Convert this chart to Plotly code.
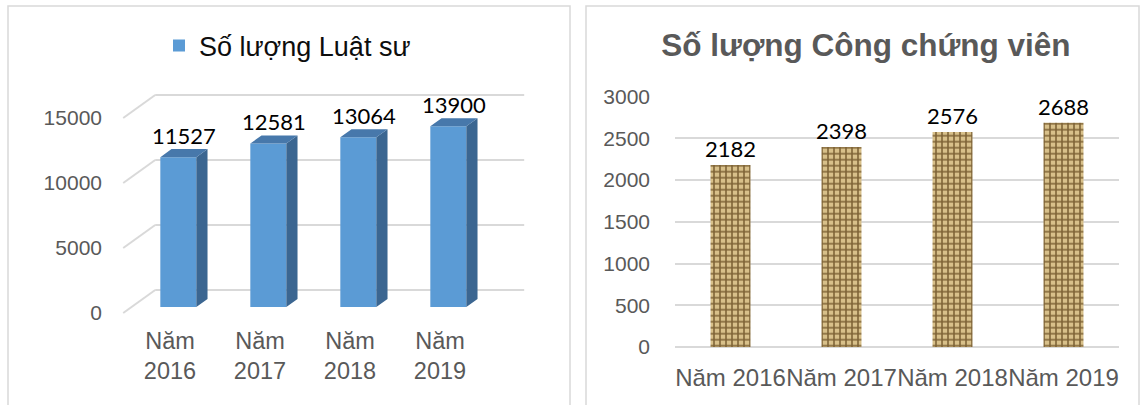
import plotly.graph_objects as go

# ---------------- data ----------------
years = ["2016", "2017", "2018", "2019"]
lawyers = [11527, 12581, 13064, 13900]
notaries = [2182, 2398, 2576, 2688]
left_cat_labels = ["Năm<br>2016", "Năm<br>2017", "Năm<br>2018", "Năm<br>2019"]
right_cat_labels = ["Năm 2016", "Năm 2017", "Năm 2018", "Năm 2019"]
left_ticks = [0, 5000, 10000, 15000]
right_ticks = [0, 500, 1000, 1500, 2000, 2500, 3000]
legend_name = "Số lượng Luật sư"
right_title = "Số lượng Công chứng viên"

# ---------------- layout constants ----------------
W, H = 1143, 405
GRID = "#d9d9d9"
TXT = "#595959"


def pxx(p):
    return p / W


def pxy(p):
    return 1 - p / H


# left pseudo-3D geometry
CAT_PX = 90.0          # pixels per category
UNIT_PX = 0.013        # pixels per value unit
CAT0_PX = 170.0        # pixel x of first category at front plane
ZERO_PX = 313.0        # pixel y of value 0 at front plane
DEPTH_DX, DEPTH_DY = 32.0, 23.0
D_FRONT, D_BACK = 0.26, 0.61
BAR_W = 0.4
WALL_L, WALL_R = -0.52, 3.58


def ddx(d):
    return d * DEPTH_DX / CAT_PX


def ddy(d):
    return d * DEPTH_DY / UNIT_PX


LX_DOM = (121, 530)
LY_DOM = (85, 316)
lx_range = [(LX_DOM[0] - CAT0_PX) / CAT_PX, (LX_DOM[1] - CAT0_PX) / CAT_PX]
ly_range = [(ZERO_PX - LY_DOM[1]) / UNIT_PX, (ZERO_PX - LY_DOM[0]) / UNIT_PX]

fig = go.Figure()

idx = list(range(len(years)))
front_x = [i + ddx(D_FRONT) for i in idx]

# front faces (real bars)
fig.add_trace(go.Bar(
    x=front_x, y=lawyers, base=ddy(D_FRONT), width=BAR_W,
    marker=dict(color="#5B9BD5", line=dict(width=0)),
    name=legend_name, xaxis="x", yaxis="y", showlegend=True,
    hoverinfo="skip",
))

# side and top faces computed from the values
side_x, side_y, top_x, top_y = [], [], [], []
sh = ddx(D_BACK) - ddx(D_FRONT)
for xc, v in zip(front_x, lawyers):
    xl, xr = xc - BAR_W / 2, xc + BAR_W / 2
    b1, b2 = ddy(D_FRONT), ddy(D_BACK)
    side_x += [xr, xr, xr + sh, xr + sh, xr, None]
    side_y += [b1, b1 + v, b2 + v, b2, b1, None]
    top_x += [xl, xr, xr + sh, xl + sh, xl, None]
    top_y += [b1 + v, b1 + v, b2 + v, b2 + v, b1 + v, None]

fig.add_trace(go.Scatter(x=side_x, y=side_y, mode="lines", fill="toself",
                         fillcolor="#3B6691", line=dict(width=0, color="#3B6691"),
                         showlegend=False, hoverinfo="skip", xaxis="x", yaxis="y"))
fig.add_trace(go.Scatter(x=top_x, y=top_y, mode="lines", fill="toself",
                         fillcolor="#4778AB", line=dict(width=0, color="#4778AB"),
                         showlegend=False, hoverinfo="skip", xaxis="x", yaxis="y"))

# left data labels
fig.add_trace(go.Scatter(
    x=[xc + sh / 2 for xc in front_x],
    y=[v + ddy(D_BACK) for v in lawyers],
    mode="text", text=[str(v) for v in lawyers], textposition="top center",
    textfont=dict(family="Lato", size=22, color="#000000"),
    showlegend=False, hoverinfo="skip", xaxis="x", yaxis="y", cliponaxis=False,
))

# right chart bars
fig.add_trace(go.Bar(
    x=right_cat_labels, y=notaries, width=0.36,
    marker=dict(color="#d2b981",
                pattern=dict(shape="+", bgcolor="#d8c08a", fgcolor="#7d6235",
                             size=6, solidity=0.45),
                line=dict(width=0)),
    text=[str(v) for v in notaries], textposition="outside", constraintext="none",
    textfont=dict(family="Lato", size=22, color="#000000"),
    cliponaxis=False, showlegend=False, hoverinfo="skip",
    xaxis="x2", yaxis="y2",
))

# ---------------- shapes: panel borders and 3D grid ----------------
shapes = [
    dict(type="rect", xref="paper", yref="paper", x0=pxx(8), x1=pxx(570),
         y0=-0.1, y1=pxy(6), line=dict(color=GRID, width=1.5), layer="below"),
    dict(type="rect", xref="paper", yref="paper", x0=pxx(586), x1=pxx(1139),
         y0=-0.1, y1=pxy(6), line=dict(color=GRID, width=1.5), layer="below"),
]
for t in left_ticks:
    shapes.append(dict(type="line", xref="x", yref="y", layer="below",
                       x0=WALL_L, y0=t, x1=WALL_L + ddx(1), y1=t + ddy(1),
                       line=dict(color=GRID, width=2)))
    shapes.append(dict(type="line", xref="x", yref="y", layer="below",
                       x0=WALL_L + ddx(1), y0=t + ddy(1), x1=WALL_R + ddx(1), y1=t + ddy(1),
                       line=dict(color=GRID, width=2)))

fig.update_layout(
    template="none",
    width=W, height=H, autosize=False,
    margin=dict(l=0, r=0, t=0, b=0, autoexpand=False),
    paper_bgcolor="white", plot_bgcolor="rgba(0,0,0,0)",
    font=dict(family="Liberation Sans", color=TXT),
    barmode="overlay",
    shapes=shapes,
    title=dict(text=right_title, x=pxx(866), y=pxy(45), xanchor="center", yanchor="middle",
               xref="paper", yref="paper",
               font=dict(family="Liberation Sans", size=31.5, color=TXT, weight="bold")),
    legend=dict(x=pxx(159), y=pxy(46), xanchor="left", yanchor="middle",
                bgcolor="rgba(0,0,0,0)", font=dict(size=27, color="#0d0d0d"),
                orientation="h"),
    xaxis=dict(domain=[pxx(LX_DOM[0]), pxx(LX_DOM[1])], range=lx_range, automargin=False,
               tickvals=idx, ticktext=left_cat_labels, showgrid=False, zeroline=False,
               showline=False, ticks="", tickfont=dict(size=23.5, color=TXT),
               ticklabelstandoff=8, tickangle=0, fixedrange=True),
    yaxis=dict(domain=[pxy(LY_DOM[1]), pxy(LY_DOM[0])], range=ly_range, automargin=False,
               tickvals=left_ticks, ticktext=[str(t) for t in left_ticks],
               showgrid=False, zeroline=False, showline=False,
               ticks="", tickfont=dict(size=21, color=TXT), ticklabelstandoff=18,
               fixedrange=True),
    xaxis2=dict(domain=[pxx(675), pxx(1119)], anchor="y2", showgrid=False, automargin=False,
                showline=False, ticks="", tickfont=dict(size=24, color=TXT), tickangle=0,
                ticklabelstandoff=14, fixedrange=True),
    yaxis2=dict(domain=[pxy(347), pxy(96.7)], anchor="x2", range=[0, 3000], automargin=False,
                tickvals=right_ticks, ticktext=[str(t) for t in right_ticks],
                showgrid=True, gridcolor=GRID, gridwidth=1.5,
                zeroline=True, zerolinecolor=GRID, zerolinewidth=1.5, showline=False,
                ticks="", tickfont=dict(size=21, color=TXT), ticklabelstandoff=24,
                fixedrange=True),
)

fig.write_html("out.html", config={"displayModeBar": False},
               post_script="document.body.style.margin='0px';")
